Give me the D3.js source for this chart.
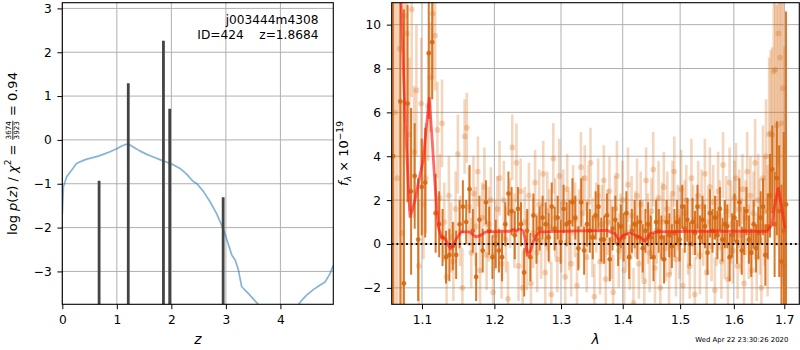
<!DOCTYPE html>
<html><head><meta charset="utf-8">
<script src="https://cdn.jsdelivr.net/npm/d3@7"></script>
<style>body{margin:0;background:#fff} svg text{font-family:"DejaVu Sans",sans-serif}</style>
</head><body>
<script>
// ---------- redshift probability panel ----------
const zGrid = [0, 0.02, 0.08, 0.17, 0.26, 0.42, 0.66, 0.75, 0.875, 1.0, 1.09, 1.17, 1.22, 1.30, 1.42, 1.55, 1.67, 1.79, 1.92, 2.04, 2.16, 2.28, 2.40, 2.47, 2.59, 2.71, 2.83, 2.92, 2.99, 3.05, 3.11, 3.17, 3.23, 3.29, 3.41, 3.60, 3.80, 4.0, 4.2, 4.33, 4.39, 4.48, 4.61, 4.73, 4.82, 4.91, 4.97];
const logPz = [-1.7, -1.07, -0.84, -0.69, -0.54, -0.45, -0.37, -0.33, -0.27, -0.2, -0.14, -0.1, -0.1, -0.16, -0.25, -0.33, -0.39, -0.45, -0.51, -0.57, -0.65, -0.78, -0.95, -1.0, -1.18, -1.41, -1.68, -1.94, -2.17, -2.40, -2.63, -2.74, -2.97, -3.35, -3.50, -3.76, -3.95, -4.05, -3.95, -3.76, -3.66, -3.54, -3.41, -3.31, -3.24, -3.05, -2.86];
const peakZ = [0.675, 1.21, 1.855, 1.97, 2.95];
const peakLogP = [-0.93, 1.29, 2.26, 0.71, -1.31];
const zTicks = [0, 1, 2, 3, 4];
const lpTicks = [-3, -2, -1, 0, 1, 2, 3];

// ---------- spectrum panel ----------
const darkWave = [
1.0625,1.0671,1.0718,1.0764,1.0811,1.0857,1.0904,1.0950,1.0997,1.1043,
1.1090,1.1136,1.1182,1.1229,1.1275,1.1322,1.1368,1.1415,1.1461,1.1508,
1.1554,1.1600,1.1647,1.1693,1.1740,1.1786,1.1833,1.1879,1.1926,1.1972,
1.2019,1.2065,1.2111,1.2158,1.2204,1.2251,1.2297,1.2344,1.2390,1.2437,
1.2483,1.2529,1.2576,1.2622,1.2669,1.2715,1.2762,1.2808,1.2855,1.2901,
1.2948,1.2994,1.3040,1.3087,1.3133,1.3180,1.3226,1.3273,1.3319,1.3366,
1.3412,1.3458,1.3505,1.3551,1.3598,1.3644,1.3691,1.3737,1.3784,1.3830,
1.3877,1.3923,1.3969,1.4016,1.4062,1.4109,1.4155,1.4202,1.4248,1.4295,
1.4341,1.4387,1.4434,1.4480,1.4527,1.4573,1.4620,1.4666,1.4713,1.4759,
1.4806,1.4852,1.4898,1.4945,1.4991,1.5038,1.5084,1.5131,1.5177,1.5224,
1.5270,1.5316,1.5363,1.5409,1.5456,1.5502,1.5549,1.5595,1.5642,1.5688,
1.5735,1.5781,1.5827,1.5874,1.5920,1.5967,1.6013,1.6060,1.6106,1.6153,
1.6199,1.6245,1.6292,1.6338,1.6385,1.6431,1.6478,1.6524,1.6571,1.6617,
1.6664,1.6710,1.6756,1.6803,1.6849,1.6896,1.6942,1.6989,1.7035];
const darkFlux = [
4.0, null, 6.5, -1.8, 6.4, 2.4, 3.1, 0.2, 2.6, 2.8,
8.7, 9.2, 1.4, 0.9, 0.3, -0.6, -0.5, -0.1, -0.5, 0.9,
1.7, 1.0, 2.5, 0.6, -1.5, 1.1, -0.3, 1.9, 0.6, -0.6,
0.0, -0.3, -0.6, 0.9, 2.3, 1.5, 0.4, 1.6, 0.9, -1.3,
0.6, -0.6, 1.3, 0.2, 0.7, 1.2, 0.9, 0.3, 1.7, 0.7,
1.2, 0.1, 1.6, 0.9, 1.0, 1.9, 1.2, -0.2, 1.9, -0.3,
0.9, 0.6, 0.3, 1.3, 1.7, 0.2, 0.2, 1.3, -0.7, 0.7,
1.1, 0.0, 0.8, 0.3, 1.4, -0.6, 0.6, 0.9, 0.3, 1.0,
-0.2, 0.6, 0.9, 0.3, -0.6, 1.0, 0.6, 0.3, -0.7, 1.0,
0.4, -0.1, 0.5, 1.0, 0.2, 1.7, 0.7, 1.1, 0.0, 1.0,
0.5, 1.7, 0.3, 1.1, 0.8, -0.4, 1.4, 0.6, 1.2, 0.4,
1.6, 0.2, 0.9, 0.8, -0.6, 0.4, 1.2, 0.1, 1.9, -0.3,
0.6, 1.5, 0.2, -0.4, 0.9, -0.2, 0.5, 1.2, 1.7, -0.5,
0.8, 2.2, 3.4, 0.9, 3.0, 1.5, -0.8, 0.6, 1.8];
const darkErr = [
20, null, 12, 12.5, 4.5, 3.8, 2.4, 2.8, 2.2, 2.5,
3.0, 2.6, 1.8, 1.5, 1.3, 1.2, 1.2, 1.1, 1.1, 1.1,
1.2, 1.0, 1.1, 1.0, 1.1, 1.1, 1.0, 1.0, 1.1, 1.0,
1.1, 1.0, 1.1, 1.0, 1.0, 1.1, 1.1, 1.0, 1.0, 1.1,
1.0, 1.1, 1.0, 1.1, 1.0, 1.0, 1.0, 1.1, 1.1, 1.0,
1.0, 1.0, 1.1, 1.0, 1.0, 1.1, 1.0, 1.0, 1.1, 1.1,
1.0, 1.0, 1.0, 1.1, 1.0, 1.0, 1.1, 1.0, 1.0, 1.0,
1.1, 1.0, 1.0, 1.1, 1.0, 1.0, 1.0, 1.1, 1.0, 1.0,
1.1, 1.0, 1.0, 1.0, 1.1, 1.0, 1.0, 1.0, 1.1, 1.0,
1.0, 1.0, 1.1, 1.0, 1.0, 1.0, 1.1, 1.0, 1.0, 1.1,
1.0, 1.0, 1.0, 1.1, 1.0, 1.0, 1.1, 1.0, 1.0, 1.1,
1.0, 1.0, 1.1, 1.0, 1.1, 1.0, 1.1, 1.0, 1.1, 1.1,
1.1, 1.1, 1.1, 1.1, 1.1, 1.1, 1.2, 1.2, 1.3, 1.4,
1.5, 1.9, 2.0, 2.4, 2.6, 3.0, 3.5, 4.5, 8.8];

const lightWave = [
1.0648,1.0679,1.0710,1.0741,1.0772,1.0803,1.0834,1.0865,1.0896,1.0927,
1.0958,1.0989,1.1020,1.1051,1.1082,1.1113,1.1144,1.1175,1.1206,1.1237,
1.1268,1.1299,1.1330,1.1361,1.1392,1.1423,1.1454,1.1485,1.1516,1.1547,
1.1578,1.1609,1.1640,1.1671,1.1702,1.1733,1.1764,1.1795,1.1826,1.1857,
1.1888,1.1919,1.1950,1.1981,1.2012,1.2043,1.2074,1.2105,1.2136,1.2167,
1.2198,1.2229,1.2260,1.2291,1.2322,1.2353,1.2384,1.2415,1.2446,1.2477,
1.2508,1.2539,1.2570,1.2601,1.2632,1.2663,1.2694,1.2725,1.2756,1.2787,
1.2818,1.2849,1.2880,1.2911,1.2942,1.2973,1.3004,1.3035,1.3066,1.3097,
1.3128,1.3159,1.3190,1.3221,1.3252,1.3283,1.3314,1.3345,1.3376,1.3407,
1.3438,1.3469,1.3500,1.3531,1.3562,1.3593,1.3624,1.3655,1.3686,1.3717,
1.3748,1.3779,1.3810,1.3841,1.3872,1.3903,1.3934,1.3965,1.3996,1.4027,
1.4058,1.4089,1.4120,1.4151,1.4182,1.4213,1.4244,1.4275,1.4306,1.4337,
1.4368,1.4399,1.4430,1.4461,1.4492,1.4523,1.4554,1.4585,1.4616,1.4647,
1.4678,1.4709,1.4740,1.4771,1.4802,1.4833,1.4864,1.4895,1.4926,1.4957,
1.4988,1.5019,1.5050,1.5081,1.5112,1.5143,1.5174,1.5205,1.5236,1.5267,
1.5298,1.5329,1.5360,1.5391,1.5422,1.5453,1.5484,1.5515,1.5546,1.5577,
1.5608,1.5639,1.5670,1.5701,1.5732,1.5763,1.5794,1.5825,1.5856,1.5887,
1.5918,1.5949,1.5980,1.6011,1.6042,1.6073,1.6104,1.6135,1.6166,1.6197,
1.6228,1.6259,1.6290,1.6321,1.6352,1.6383,1.6414,1.6445,1.6476,1.6507,
1.6538,1.6569,1.6600,1.6631,1.6662,1.6693,1.6724,1.6755,1.6786,1.6817,
1.6848,1.6879,1.6910,1.6941,1.6972,1.7003];
const lightFlux = [
6.0, 3.0, 8.9, 0.5, 10.4, 9.6, 5.0, 10.7, 4.2, 7.0,
-1.0, 6.4, 1.8, 3.0, 6.3, 7.6, 10.5, 9.5, 5.2, 2.1,
5.5, 1.0, -1.5, 2.2, 0.3, -0.8, 1.6, 4.1, 0.6, -2.0,
4.9, 5.3, 1.7, -0.4, 2.3, 0.8, 3.3, -1.2, 1.2, 2.6,
-0.5, 0.9, 2.0, -2.2, 0.4, 1.6, 3.0, -0.9, 2.0, 0.2,
-2.5, 1.4, 4.4, 0.6, 3.7, -1.0, 2.4, -2.0, 1.0, -0.3,
2.2, -1.8, 0.5, 2.8, -0.4, 1.8, 0.1, 3.2, -1.3, 1.5,
0.8, -2.3, 3.9, 1.2, -0.7, 3.1, 0.3, 1.9, -1.5, 2.5,
0.6, -0.9, 2.0, 1.1, -1.9, 0.7, 3.5, 1.4, 3.0, -0.6,
1.9, 3.7, 0.3, -2.4, 1.2, 2.2, -0.8, 0.9, 2.9, -1.6,
1.0, 2.4, 0.2, -2.2, 1.6, 3.1, -0.3, 0.8, 2.0, -1.2,
0.5, 2.7, -0.6, 1.3, -2.7, 0.9, 2.2, -0.9, 1.8, 0.2,
-1.7, 2.9, 0.7, -0.4, 1.5, 3.4, -1.1, 0.6, 2.1, -2.0,
1.0, 2.6, -0.2, 1.6, -1.4, 0.4, 2.3, 3.3, -0.7, 1.2,
0.0, 2.5, -1.9, 1.4, 2.0, 0.3, -1.0, 3.0, 1.1, -2.3,
0.8, 2.2, -0.5, 1.7, 0.5, 3.2, -1.3, 1.0, 2.6, -0.1,
1.9, -2.1, 0.6, 2.4, 1.3, -0.8, 3.6, 0.2, 1.5, -1.6,
2.8, 0.9, -0.3, 2.1, 3.0, -1.0, 1.6, 0.4, 2.5, -1.8,
1.2, 3.3, 0.1, 2.2, -1.2, 1.4, 3.7, -0.6, 2.0, 0.8,
-2.0, 3.0, 1.5, 4.0, 0.6, 5.0, 5.05, 4.97, 7.87, 7.95,
5.4, 9.6, 8.5, 5.5, 7.1, -1.0];
const lightErr = [
14, 10, 5, 6, 4, 4, 3.5, 4, 3, 3,
3, 3, 2.5, 2.5, 2.5, 2.5, 3, 2.5, 2.2, 2.0,
2.0, 1.8, 1.8, 1.8, 1.6, 1.8, 1.7, 1.8, 1.6, 1.8,
1.7, 1.6, 1.8, 1.6, 1.7, 1.8, 1.6, 1.7, 1.6, 1.8,
1.6, 1.7, 1.5, 1.8, 1.6, 1.5, 1.7, 1.6, 1.8, 1.5,
1.7, 1.6, 1.5, 1.7, 1.8, 1.6, 1.5, 1.7, 1.6, 1.8,
1.5, 1.7, 1.6, 1.5, 1.8, 1.6, 1.7, 1.5, 1.6, 1.8,
1.7, 1.5, 1.6, 1.8, 1.5, 1.7, 1.6, 1.5, 1.7, 1.6,
1.8, 1.5, 1.6, 1.7, 1.5, 1.8, 1.6, 1.7, 1.5, 1.6,
1.7, 1.6, 1.8, 1.5, 1.6, 1.7, 1.5, 1.8, 1.6, 1.7,
1.5, 1.6, 1.8, 1.7, 1.5, 1.6, 1.7, 1.5, 1.8, 1.6,
1.6, 1.7, 1.5, 1.8, 1.6, 1.5, 1.7, 1.6, 1.5, 1.8,
1.7, 1.5, 1.6, 1.8, 1.5, 1.7, 1.6, 1.5, 1.7, 1.6,
1.8, 1.6, 1.5, 1.7, 1.6, 1.8, 1.5, 1.6, 1.7, 1.5,
1.6, 1.8, 1.7, 1.5, 1.6, 1.7, 1.5, 1.8, 1.6, 1.7,
1.5, 1.6, 1.8, 1.7, 1.5, 1.6, 1.7, 1.5, 1.8, 1.6,
1.7, 1.5, 1.6, 1.8, 1.6, 1.7, 1.5, 1.8, 1.6, 1.7,
1.6, 1.8, 1.5, 1.7, 1.6, 1.5, 1.8, 1.7, 1.6, 1.8,
1.7, 1.8, 1.7, 1.8, 1.9, 1.9, 2.0, 2.0, 2.1, 2.2,
2.3, 2.4, 2.5, 2.6, 3.0, 3.5, 3.8, 4.0, 4.5, 5.0,
5.5, 6.0, 6.5, 7.0, 9.0, 10];

const modelWave = [1.0715, 1.0735, 1.0755, 1.0780, 1.0799, 1.0822, 1.0843, 1.0870, 1.0908, 1.0951, 1.0990, 1.1017, 1.1060, 1.1097, 1.1129, 1.1173, 1.1217, 1.1262, 1.1306, 1.1340, 1.1383, 1.1418, 1.1441, 1.1464, 1.1531, 1.1644, 1.1735, 1.1804, 1.1874, 1.2228, 1.2276, 1.2324, 1.2374, 1.2422, 1.2447, 1.2486, 1.2536, 1.2596, 1.2668, 1.3141, 1.3733, 1.3871, 1.3943, 1.4000, 1.4123, 1.4293, 1.4380, 1.4466, 1.4583, 1.5240, 1.6644, 1.6744, 1.6811, 1.6877, 1.6946, 1.7014];
const modelFlux = [12.5, 10.4, 8.1, 5.8, 4.3, 2.6, 1.25, 1.5, 2.0, 2.76, 3.4, 3.83, 5.4, 6.65, 5.05, 2.76, 0.77, 0.32, 0.24, 0.05, -0.22, -0.05, 0.09, 0.24, 0.55, 0.55, 0.32, 0.39, 0.55, 0.58, 0.66, 0.58, 0.70, 0.60, 0.32, -0.52, -0.29, 0.32, 0.55, 0.59, 0.62, 0.47, 0.16, 0.39, 0.50, 0.32, 0.13, 0.47, 0.55, 0.58, 0.58, 0.85, 1.85, 2.55, 1.69, 0.7];
const waveTicks = [1.1, 1.2, 1.3, 1.4, 1.5, 1.6, 1.7];
const fluxTicks = [-2, 0, 2, 4, 6, 8, 10];

// ---------- layout ----------
const FONT = "DejaVu Sans";
const TICK_FS = 12.2, XLABEL_FS = 13.8, YLABEL_FS = 13.0;
const P1 = {x0: 62.3, x1: 333.3, y0: 2.7, y1: 304.3};
const P2 = {x0: 391.7, x1: 799.3, y0: 2.7, y1: 304.3};
const GRID = "#b0b0b0";
const ORANGE = "#d5660e";

const svg = d3.select("body").append("svg").attr("width", 800).attr("height", 350)
  .attr("font-family", FONT);

const xz = d3.scaleLinear().domain([0, 4.97]).range([P1.x0, P1.x1]);
const yz = d3.scaleLinear().domain([-3.75, 3.13]).range([P1.y1, P1.y0]);
const xl = d3.scaleLog().domain([1.0607, 1.7309]).range([P2.x0, P2.x1]);
const yf = d3.scaleLinear().domain([-2.75, 11.0]).range([P2.y1, P2.y0]);

const defs = svg.append("defs");
[["clipL", P1], ["clipR", P2]].forEach(([id, P]) => {
  defs.append("clipPath").attr("id", id).append("rect")
    .attr("x", P.x0).attr("y", P.y0).attr("width", P.x1 - P.x0).attr("height", P.y1 - P.y0);
});

function drawGrid(P, xs, ys, xt, yt) {
  const g = svg.append("g").attr("stroke", GRID).attr("stroke-width", 1);
  g.selectAll("line.gx").data(xt).join("line")
    .attr("x1", d => xs(d)).attr("x2", d => xs(d)).attr("y1", P.y0).attr("y2", P.y1);
  g.selectAll("line.gy").data(yt).join("line")
    .attr("y1", d => ys(d)).attr("y2", d => ys(d)).attr("x1", P.x0).attr("x2", P.x1);
}

function drawAxes(P, xs, ys, xt, yt, xfmt, yfmt) {
  const gx = svg.append("g").attr("transform", `translate(0,${P.y1})`)
    .call(d3.axisBottom(xs).tickValues(xt).tickFormat(xfmt).tickSize(4.9).tickPadding(6.5));
  const gy = svg.append("g").attr("transform", `translate(${P.x0},0)`)
    .call(d3.axisLeft(ys).tickValues(yt).tickFormat(yfmt).tickSize(4.9).tickPadding(5.7));
  [gx, gy].forEach(g => {
    g.select(".domain").remove();
    g.attr("font-size", TICK_FS).attr("font-family", FONT);
    g.selectAll("line").attr("stroke", "#000").attr("stroke-width", 1);
    g.selectAll("text").attr("fill", "#000");
  });
  svg.append("rect").attr("x", P.x0).attr("y", P.y0)
    .attr("width", P.x1 - P.x0).attr("height", P.y1 - P.y0)
    .attr("fill", "none").attr("stroke", "#000").attr("stroke-width", 1.1);
}

// Composite label built from text runs (plain, italic, raised/lowered, fraction)
function mathLabel(parent, parts, fs) {
  const g = parent.append("g");
  let x = 0;
  parts.forEach(p => {
    if (p.frac) {
      const s = fs * p.scale;
      const num = g.append("text").attr("font-size", s).text(p.frac[0]);
      const den = g.append("text").attr("font-size", s).text(p.frac[1]);
      const w = Math.max(num.node().getComputedTextLength(), den.node().getComputedTextLength()) + 2;
      const barY = -0.3 * fs;
      num.attr("x", x + w / 2).attr("y", barY - 1.4).attr("text-anchor", "middle");
      den.attr("x", x + w / 2).attr("y", barY + 1.4 + 0.73 * s).attr("text-anchor", "middle");
      g.append("line").attr("x1", x + 0.5).attr("x2", x + w - 0.5).attr("y1", barY).attr("y2", barY)
        .attr("stroke", "#000").attr("stroke-width", 0.8);
      x += w;
      return;
    }
    const t = g.append("text")
      .attr("x", x).attr("y", (p.shift || 0) * fs)
      .attr("font-size", fs * (p.scale || 1))
      .attr("font-style", p.it ? "italic" : "normal")
      .style("white-space", "pre")
      .text(p.t);
    x += t.node().getComputedTextLength();
  });
  g.attr("transform", `translate(${-x / 2},0)`);
  return x;
}

// ---------- left panel: p(z) ----------
drawGrid(P1, xz, yz, zTicks, lpTicks);

const pzLine = d3.line().x((d, i) => xz(zGrid[i])).y(d => yz(d));
svg.append("path").attr("clip-path", "url(#clipL)")
  .attr("d", pzLine(logPz))
  .attr("fill", "none").attr("stroke", "#1f77b4").attr("stroke-opacity", 0.55)
  .attr("stroke-width", 1.7).attr("stroke-linejoin", "round");

svg.append("g").attr("clip-path", "url(#clipL)")
  .selectAll("line").data(peakZ).join("line")
  .attr("x1", d => xz(d)).attr("x2", d => xz(d))
  .attr("y1", yz(-3.75) + 2).attr("y2", (d, i) => yz(peakLogP[i]))
  .attr("stroke", "#444").attr("stroke-width", 2.8);

drawAxes(P1, xz, yz, zTicks, lpTicks, d3.format("d"), d3.format("d"));

svg.append("text").attr("x", 318.5).attr("y", 24.3).attr("text-anchor", "end")
  .attr("font-size", TICK_FS).text("j003444m4308");
svg.append("text").attr("x", 318.5).attr("y", 38.7).attr("text-anchor", "end")
  .attr("font-size", TICK_FS).style("white-space", "pre").text("ID=424    z=1.8684");

svg.append("text").attr("x", (P1.x0 + P1.x1) / 2).attr("y", 344).attr("text-anchor", "middle")
  .attr("font-size", XLABEL_FS).attr("font-style", "italic").text("z");

const yl1 = svg.append("g").attr("transform", `translate(16.7,${(P1.y0 + P1.y1) / 2}) rotate(-90)`);
mathLabel(yl1, [
  {t: "log "}, {t: "p", it: 1}, {t: "("}, {t: "z", it: 1}, {t: ") / "},
  {t: "χ", it: 1}, {t: "2", scale: 0.7, shift: -0.42}, {t: " = "},
  {frac: ["3674", "3923"], scale: 0.55}, {t: " = 0.94"}
], YLABEL_FS);

// ---------- right panel: spectrum ----------
drawGrid(P2, xl, yf, waveTicks, fluxTicks);

const spec = svg.append("g").attr("clip-path", "url(#clipR)");

function errorSeries(g, wave, flux, err, color, alpha, barW, r) {
  const idx = d3.range(wave.length).filter(i => flux[i] != null);
  g.append("g").attr("stroke", color).attr("stroke-opacity", alpha).attr("stroke-width", barW)
    .selectAll("line").data(idx).join("line")
    .attr("x1", i => xl(wave[i])).attr("x2", i => xl(wave[i]))
    .attr("y1", i => yf(flux[i] - err[i])).attr("y2", i => yf(flux[i] + err[i]));
  g.append("g").attr("fill", color).attr("fill-opacity", alpha)
    .selectAll("circle").data(idx).join("circle")
    .attr("cx", i => xl(wave[i])).attr("cy", i => yf(flux[i])).attr("r", r);
}

errorSeries(spec, lightWave, lightFlux, lightErr, ORANGE, 0.27, 2.6, 2.9);
errorSeries(spec, darkWave, darkFlux, darkErr, ORANGE, 0.88, 2.0, 2.4);

const modelLine = d3.line().x((d, i) => xl(modelWave[i])).y(d => yf(d));
spec.append("path").attr("d", modelLine(modelFlux))
  .attr("fill", "none").attr("stroke", "#ff1a1a").attr("stroke-opacity", 0.65)
  .attr("stroke-width", 2.8).attr("stroke-linejoin", "round");

spec.append("line").attr("x1", P2.x0).attr("x2", P2.x1).attr("y1", yf(0)).attr("y2", yf(0))
  .attr("stroke", "#000").attr("stroke-width", 1.8).attr("stroke-dasharray", "1.8,3");

drawAxes(P2, xl, yf, waveTicks, fluxTicks, d3.format(".1f"), d3.format("d"));

svg.append("text").attr("x", (P2.x0 + P2.x1) / 2).attr("y", 344).attr("text-anchor", "middle")
  .attr("font-size", XLABEL_FS).attr("font-style", "italic").text("λ");

const yl2 = svg.append("g").attr("transform", `translate(348.3,${(P2.y0 + P2.y1) / 2}) rotate(-90)`);
mathLabel(yl2, [
  {t: "f", it: 1}, {t: "λ", it: 1, scale: 0.7, shift: 0.22}, {t: " × 10"},
  {t: "−19", scale: 0.7, shift: -0.42}
], YLABEL_FS);

svg.append("text").attr("x", 788.3).attr("y", 341.6).attr("text-anchor", "end")
  .attr("font-size", 6.9).text("Wed Apr 22 23:30:26 2020");
</script>
</body></html>
